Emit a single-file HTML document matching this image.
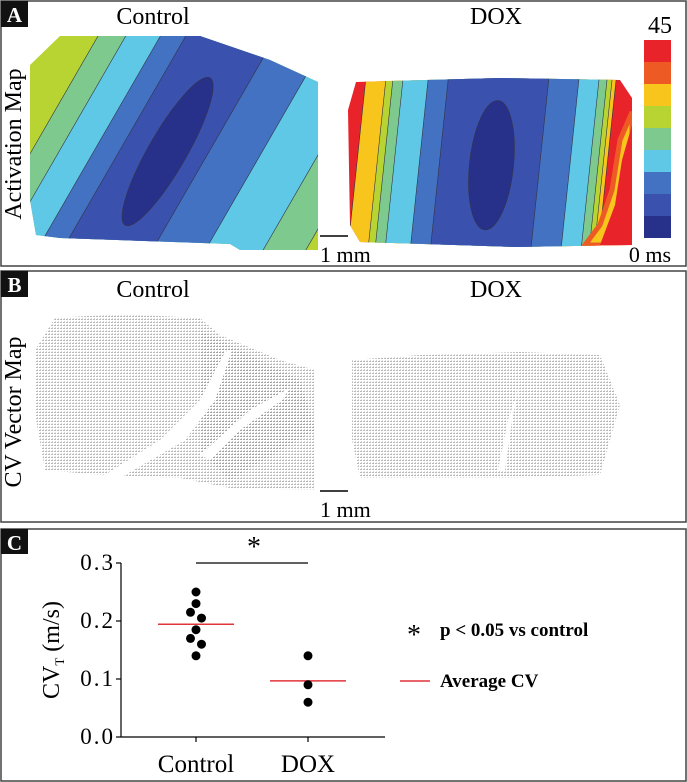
<!DOCTYPE html>
<html><head><meta charset="utf-8"><style>
body{margin:0;background:#fff;}
svg{display:block;font-family:"Liberation Serif",serif;}
</style></head><body>
<svg id="fig" width="687" height="782" viewBox="0 0 687 782">
<defs>
<clipPath id="ctrlA"><path d="M30,65 L60,36 L200,36 L270,60 L318,82 L318,250 L240,250 L230,244 L60,238 L36,235 L30,200 Z"/></clipPath>
<clipPath id="doxA"><path d="M356,82 L500,78 L620,80 L632,98 L632,245 L515,247 L360,242 L350,225 L348,110 Z"/></clipPath>
<pattern id="vec" width="3" height="3" patternUnits="userSpaceOnUse"><rect x="0" y="1" width="2" height="1" fill="#b8b8b8"/><rect x="1" y="0" width="1" height="1" fill="#dadada"/></pattern>
<pattern id="vecd" width="3" height="3" patternUnits="userSpaceOnUse"><rect x="0" y="1" width="2" height="1" fill="#999"/><rect x="1" y="0" width="1" height="1" fill="#c8c8c8"/></pattern>
</defs>

<!-- Panel A -->
<g>
<rect x="1" y="1" width="685" height="265" fill="none" stroke="#444" stroke-width="1.5"/>
<rect x="1" y="1" width="27" height="26" fill="#111"/>
<text x="14.5" y="22" font-size="21" font-weight="bold" fill="#fff" text-anchor="middle">A</text>
<text x="153" y="24" font-size="24" text-anchor="middle">Control</text>
<text x="496" y="24" font-size="24" text-anchor="middle">DOX</text>
<text transform="translate(21,144) rotate(-90)" font-size="24" text-anchor="middle">Activation Map</text>
<g clip-path="url(#ctrlA)">
<g transform="translate(165,150) rotate(30)" stroke="#334" stroke-width="0.6">
<rect x="-300" y="-300" width="600" height="600" fill="#b7d433"/>
<rect x="-115" y="-300" width="287" height="600" fill="#7dc98e"/>
<rect x="-91" y="-300" width="226" height="600" fill="#5ec8e6"/>
<rect x="-61" y="-300" width="146" height="600" fill="#4272c1"/>
<rect x="-39" y="-300" width="78" height="600" fill="#3a51ae"/>
<ellipse cx="3" cy="0" rx="19" ry="85" fill="#27318a"/>
</g>
</g>
<g clip-path="url(#doxA)">
<g transform="translate(490,160) rotate(6)" stroke="#334" stroke-width="0.6">
<rect x="-200" y="-200" width="400" height="400" fill="#e8232a"/>
<rect x="-132" y="-200" width="249" height="400" fill="#f7c51c"/>
<rect x="-112" y="-200" width="225" height="400" fill="#b7d433"/>
<rect x="-105" y="-200" width="213" height="400" fill="#7dc98e"/>
<rect x="-95" y="-200" width="195" height="400" fill="#5ec8e6"/>
<rect x="-70" y="-200" width="150" height="400" fill="#4272c1"/>
<rect x="-50" y="-200" width="100" height="400" fill="#3a51ae"/>
<ellipse cx="2" cy="5" rx="22" ry="65" fill="#27318a"/>
</g>
<path d="M632,112 L620,140 L612,190 L600,225 L585,245 L632,245 Z" fill="#f7c51c" stroke="#ee5a24" stroke-width="5"/>
<path d="M632,125 L622,160 L615,205 L600,245 L632,245 Z" fill="#e8232a"/>
</g>
<line x1="320" y1="236" x2="348" y2="236" stroke="#000" stroke-width="1.5"/>
<text x="320" y="262" font-size="22">1 mm</text>
<g>
<rect x="644" y="40" width="27" height="22" fill="#e8232a"/>
<rect x="644" y="62" width="27" height="22" fill="#ee5a24"/>
<rect x="644" y="84" width="27" height="22" fill="#f7c51c"/>
<rect x="644" y="106" width="27" height="22" fill="#b7d433"/>
<rect x="644" y="128" width="27" height="22" fill="#7dc98e"/>
<rect x="644" y="150" width="27" height="22" fill="#5ec8e6"/>
<rect x="644" y="172" width="27" height="22" fill="#4272c1"/>
<rect x="644" y="194" width="27" height="22" fill="#3a51ae"/>
<rect x="644" y="216" width="27" height="22" fill="#27318a"/>
</g>
<text x="660" y="33" font-size="24" text-anchor="middle">45</text>
<text x="650" y="262" font-size="22" text-anchor="middle">0 ms</text>
</g>

<!-- Panel B -->
<g>
<rect x="1" y="271" width="685" height="251" fill="none" stroke="#444" stroke-width="1.5"/>
<rect x="1" y="271" width="27" height="26" fill="#111"/>
<text x="14.5" y="292" font-size="21" font-weight="bold" fill="#fff" text-anchor="middle">B</text>
<text x="153" y="297" font-size="24" text-anchor="middle">Control</text>
<text x="496" y="297" font-size="24" text-anchor="middle">DOX</text>
<text transform="translate(21,412) rotate(-90)" font-size="24" text-anchor="middle">CV Vector Map</text>
<path d="M35,350 L55,318 L120,314 L200,318 L220,335 L280,360 L315,370 L315,490 L230,488 L180,478 L100,475 L45,470 L36,420 Z" fill="url(#vec)"/>
<path d="M200,330 L260,360 L300,380 L315,430 L230,480 L200,450 Z" fill="url(#vecd)" opacity="0.7"/>
<path d="M100,478 L160,440 L200,400 L225,352 L232,350 L215,400 L185,440 L120,478 Z" fill="#fff"/>
<path d="M200,455 L250,410 L290,388 L282,400 L240,430 L210,460 Z" fill="#fff"/>
<path d="M352,360 L420,355 L520,352 L600,355 L620,405 L600,475 L500,478 L360,478 L352,440 Z" fill="url(#vec)"/>
<path d="M498,470 L508,420 L515,400 L520,380 L512,420 L505,470 Z" fill="#fff"/>
<line x1="320" y1="491" x2="348" y2="491" stroke="#000" stroke-width="1.5"/>
<text x="320" y="517" font-size="22">1 mm</text>
</g>

<!-- Panel C -->
<g>
<rect x="1" y="529" width="685" height="252" fill="none" stroke="#444" stroke-width="1.5"/>
<rect x="1" y="529" width="27" height="25" fill="#111"/>
<text x="14.5" y="550" font-size="21" font-weight="bold" fill="#fff" text-anchor="middle">C</text>
<g id="plotC"></g>
<text x="254" y="556" font-size="28" text-anchor="middle">*</text>
<line x1="196" y1="563" x2="308" y2="563" stroke="#000" stroke-width="1.2"/>
<text x="414" y="644" font-size="28" text-anchor="middle">*</text>
<text x="440" y="636" font-size="19" font-weight="bold">p &lt; 0.05 vs control</text>
<line x1="400" y1="681" x2="430" y2="681" stroke="#e0343a" stroke-width="1.5"/>
<text x="440" y="687" font-size="19" font-weight="bold">Average CV</text>
</g>
</svg>
<script>
const groups = ["Control", "DOX"];
const controlValues = [0.25, 0.23, 0.215, 0.205, 0.185, 0.17, 0.16, 0.14];
const controlJitter = [0, 0, -1, 1, 0, -1, 1, 0];
const doxValues = [0.14, 0.09, 0.06];
const doxJitter = [0, 0, 0];
const yTicks = [0.0, 0.1, 0.2, 0.3];
const yTickLabels = ["0.0", "0.1", "0.2", "0.3"];

const NS = "http://www.w3.org/2000/svg";
const g = document.getElementById("plotC");
const x0 = 121, x1 = 385, yBase = 737, yTop = 563;
function yScale(v){ return yBase - (v / 0.3) * (yBase - yTop); }
function xScale(i){ return 196 + i * 112; }
function mk(tag, attrs){ const e = document.createElementNS(NS, tag); for (const k in attrs) e.setAttribute(k, attrs[k]); g.appendChild(e); return e; }

let e = mk("line", {x1:x0, y1:yTop, x2:x0, y2:yBase, stroke:"#000", "stroke-width":1.2});


e = mk("line", {x1:x0, y1:yBase, x2:x1, y2:yBase, stroke:"#000", "stroke-width":1.2});



yTicks.forEach((t, i) => {
  const y = yScale(t);
  let tk = mk("line", {x1:x0-5, y1:y, x2:x0, y2:y, stroke:"#000", "stroke-width":1.2});
  
  
  let tl = mk("text", {x:x0-6, y:y+7, "font-size":23, "text-anchor":"end", "letter-spacing":"2"});
  tl.textContent = yTickLabels[i];
  
  
});

groups.forEach((name, i) => {
  const x = xScale(i);
  let tk = mk("line", {x1:x, y1:yBase, x2:x, y2:yBase+5, stroke:"#000", "stroke-width":1.2});
  
  
  let tl = mk("text", {x:x, y:772, "font-size":25, "text-anchor":"middle"});
  tl.textContent = name;
  
  
});

let yl = mk("text", {transform:"translate(59,650) rotate(-90)", "font-size":24, "text-anchor":"middle"});
yl.innerHTML = 'CV<tspan font-size="13" dy="5">T</tspan><tspan dy="-5"> (m/s)</tspan>';



function drawGroup(vals, jit, i, nm){
  const x = xScale(i);
  const mean = vals.reduce((a,b)=>a+b,0)/vals.length;
  let ml = mk("line", {x1:x-38, y1:yScale(mean), x2:x+38, y2:yScale(mean), stroke:"#e0343a", "stroke-width":1.5});
  
  
  vals.forEach((v, j) => {
    let c = mk("circle", {cx:x + jit[j]*5.5, cy:yScale(v), r:4.5, fill:"#000"});
    
    
  });
}
drawGroup(controlValues, controlJitter, 0, 'control');
drawGroup(doxValues, doxJitter, 1, 'dox');
</script>
</body></html>
